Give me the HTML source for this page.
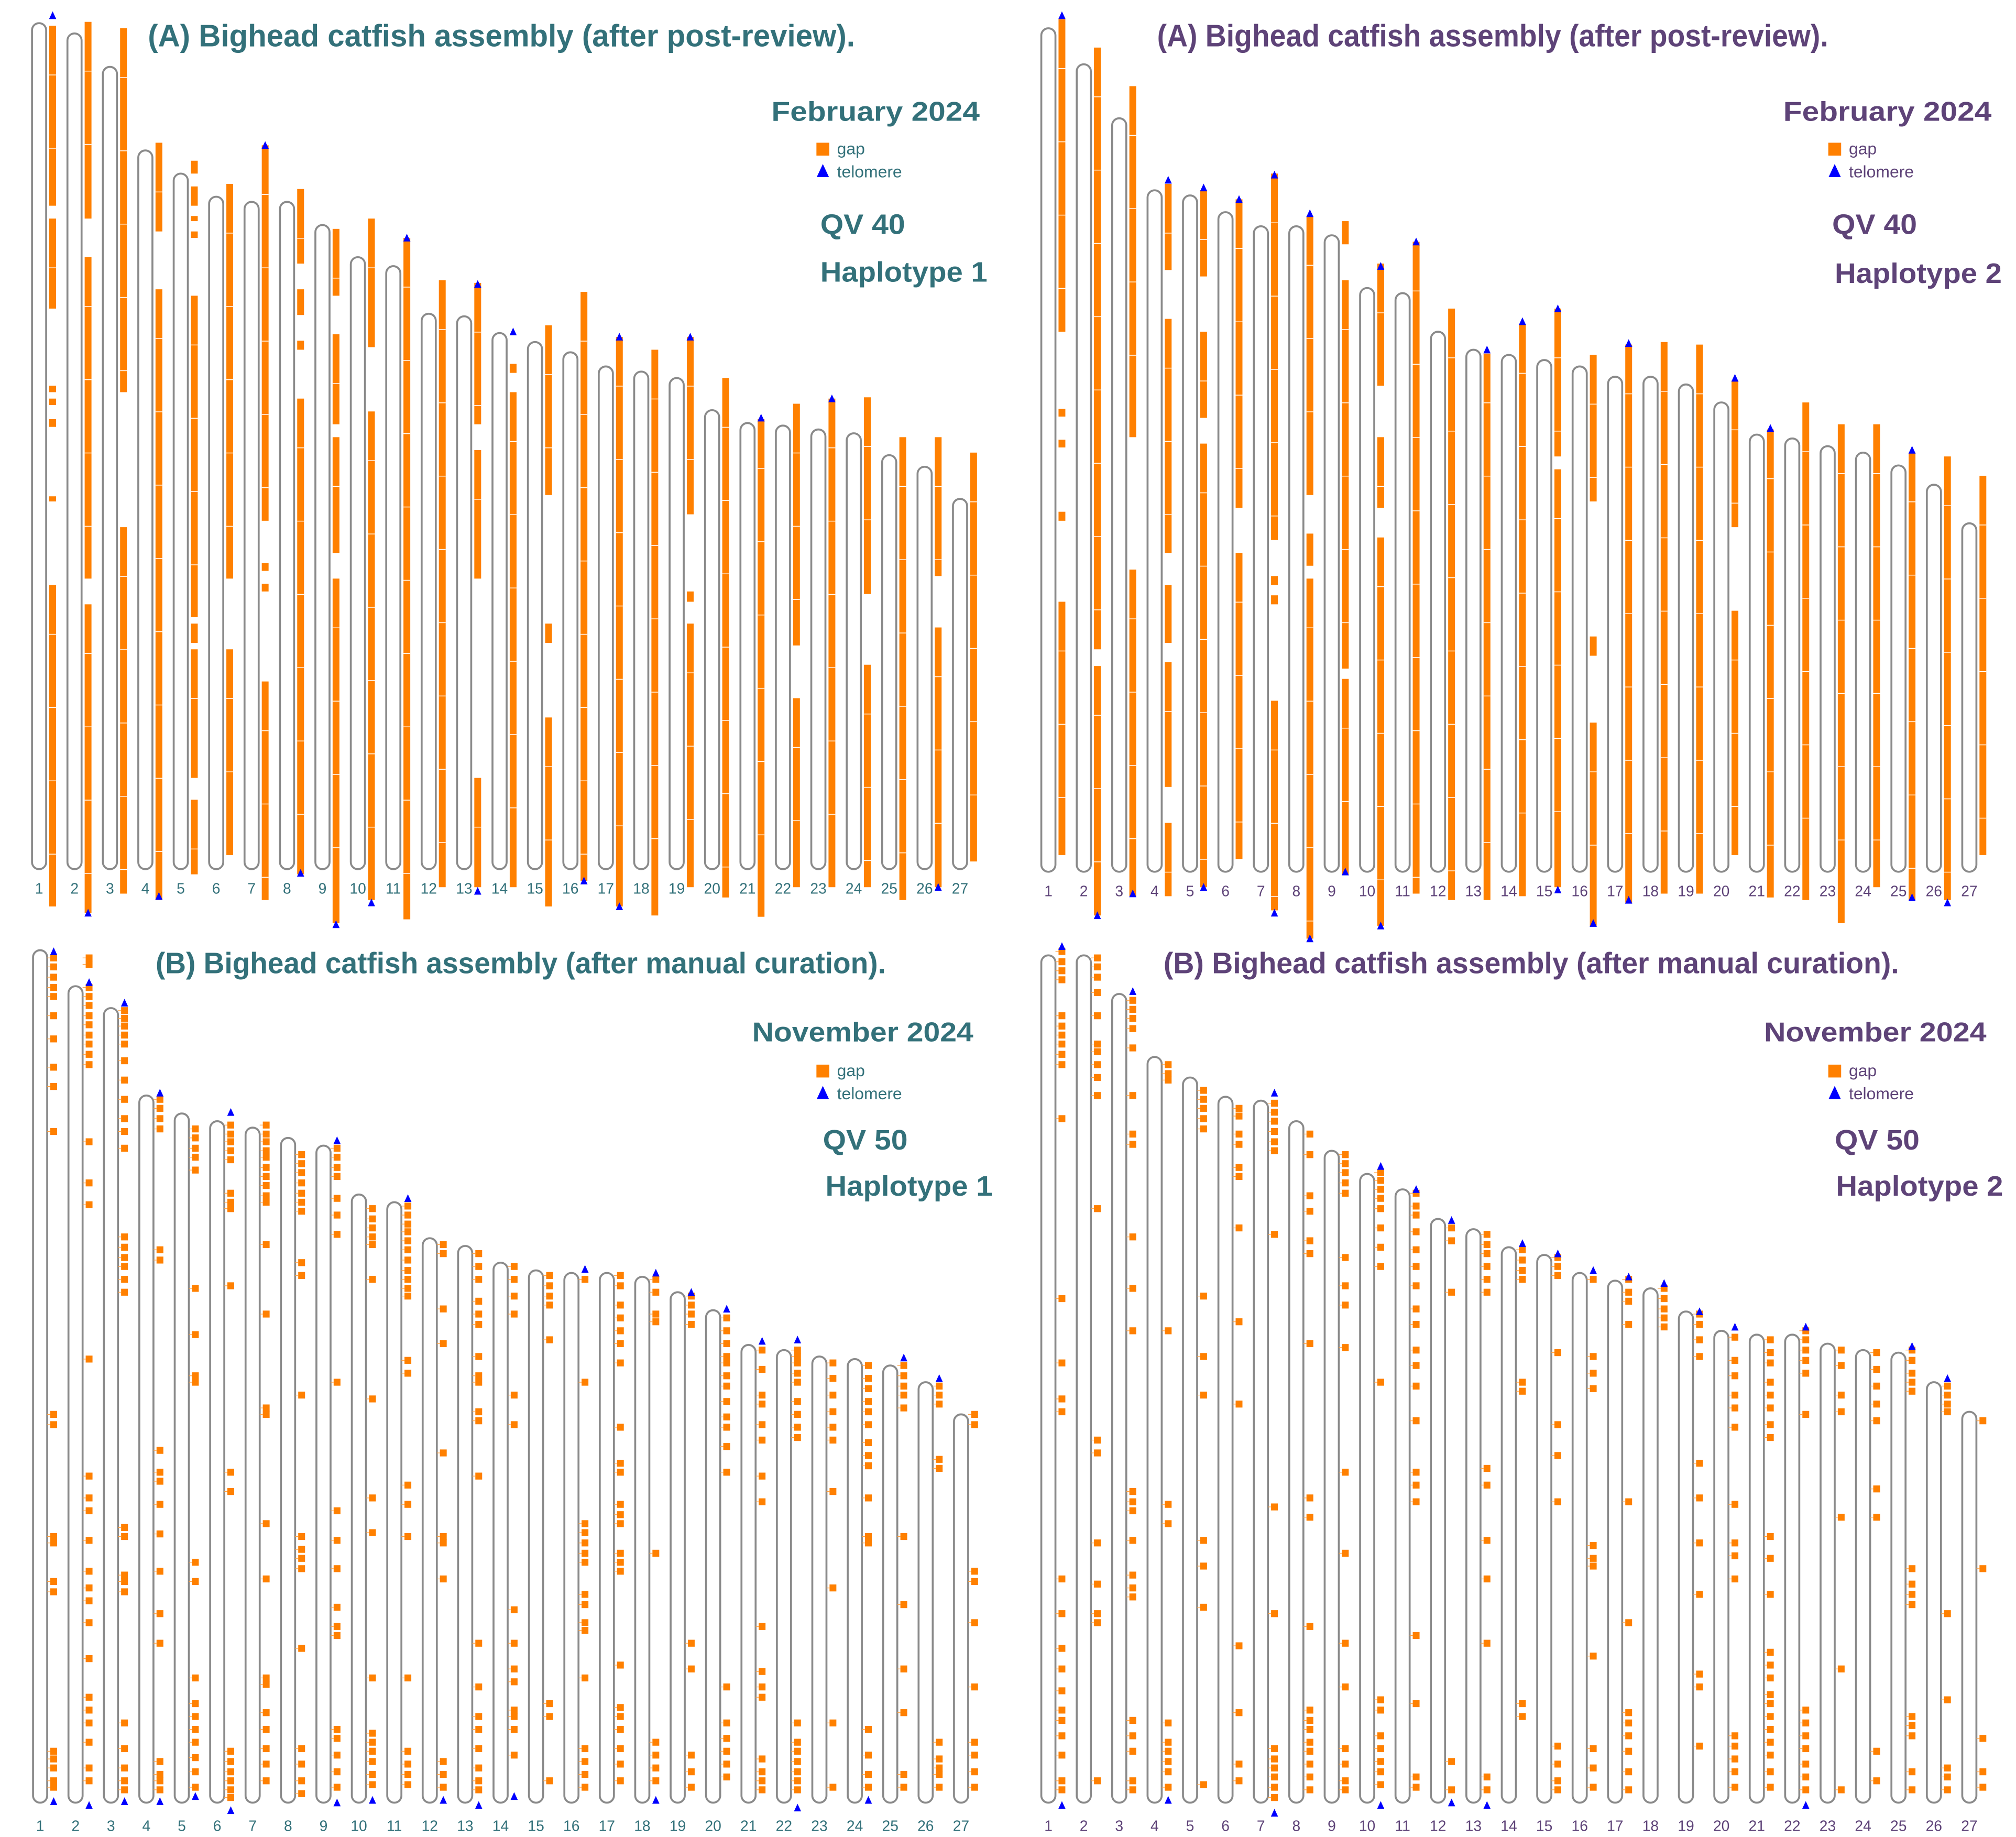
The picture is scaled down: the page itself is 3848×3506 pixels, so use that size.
<!DOCTYPE html>
<html><head><meta charset="utf-8"><title>Bighead catfish assembly ideograms</title>
<style>
html,body{margin:0;padding:0;background:#fff;}
svg{display:block;}
text{font-family:"Liberation Sans",sans-serif;}
.t{font-weight:bold;}
</style></head>
<body>
<svg id="fig" xmlns="http://www.w3.org/2000/svg" width="3848" height="3506" viewBox="0 0 1568 1428.7" preserveAspectRatio="none">
<rect x="0" y="0" width="1568" height="1428.7" fill="#fff"/>
<g fill="#33717a">
<text class="t" x="115" y="36" font-size="24" textLength="550" lengthAdjust="spacingAndGlyphs">(A) Bighead catfish assembly (after post-review).</text>
<text class="t" x="600" y="94" font-size="21" textLength="162" lengthAdjust="spacingAndGlyphs">February  2024</text>
<text class="t" x="638" y="182" font-size="22" textLength="66" lengthAdjust="spacingAndGlyphs">QV 40</text>
<text class="t" x="638" y="219" font-size="22" textLength="130" lengthAdjust="spacingAndGlyphs">Haplotype 1</text>
</g>
<g fill="#5e4378">
<text class="t" x="900" y="36" font-size="24" textLength="522" lengthAdjust="spacingAndGlyphs">(A) Bighead catfish assembly (after post-review).</text>
<text class="t" x="1387" y="94" font-size="21" textLength="162" lengthAdjust="spacingAndGlyphs">February  2024</text>
<text class="t" x="1425" y="182" font-size="22" textLength="66" lengthAdjust="spacingAndGlyphs">QV 40</text>
<text class="t" x="1427" y="220" font-size="22" textLength="130" lengthAdjust="spacingAndGlyphs">Haplotype 2</text>
</g>
<g fill="#33717a">
<text class="t" x="121" y="757" font-size="23" textLength="568" lengthAdjust="spacingAndGlyphs">(B) Bighead catfish assembly (after manual curation).</text>
<text class="t" x="585" y="810" font-size="21" textLength="172" lengthAdjust="spacingAndGlyphs">November 2024</text>
<text class="t" x="640" y="894" font-size="22" textLength="66" lengthAdjust="spacingAndGlyphs">QV 50</text>
<text class="t" x="642" y="930" font-size="22" textLength="130" lengthAdjust="spacingAndGlyphs">Haplotype 1</text>
</g>
<g fill="#5e4378">
<text class="t" x="905" y="757" font-size="23" textLength="572" lengthAdjust="spacingAndGlyphs">(B) Bighead catfish assembly (after manual curation).</text>
<text class="t" x="1372" y="810" font-size="21" textLength="173" lengthAdjust="spacingAndGlyphs">November 2024</text>
<text class="t" x="1427" y="894" font-size="22" textLength="66" lengthAdjust="spacingAndGlyphs">QV 50</text>
<text class="t" x="1428" y="930" font-size="22" textLength="130" lengthAdjust="spacingAndGlyphs">Haplotype 2</text>
</g>
</svg>
<script>
// ---- data (preview-scale units; y positions along the figure) ----
const chromosomes = ["1","2","3","4","5","6","7","8","9","10","11","12","13","14","15","16","17","18","19","20","21","22","23","24","25","26","27"];
const topsAL = [18,26,52,117,135,153,157,157,175,200,207,244,246,259,266,274,285,289,294,319,329,331,334,337,354,363,388];
const topsAR = [22,50,92,148,152,165,176,176,183,224,228,258,272,276,280,285,293,293,299,313,338,341,347,352,362,377,407];
const topsBL = [739,767,784,852,866,872,877,885,891,929,935,963,969,982,988,990,990,993,1005,1019,1046,1050,1055,1057,1062,1075,1100];
const topsBR = [743,743,773,822,838,853,856,872,895,913,925,948,956,970,976,990,996,1002,1020,1035,1038,1038,1045,1050,1052,1075,1098];

const segAL = [[[20,160],[170,240],[300,305],[310,315],[326,332],[386,390],[455,705]],[[17,170],[200,450],[470,710]],[[22,305],[410,695]],[[111,180],[225,700]],[[125,135],[145,160],[168,172],[180,185],[230,480],[485,500],[505,605],[622,680]],[[143,450],[505,665]],[[113,405],[438,444],[454,460],[530,700]],[[147,205],[225,245],[265,272],[310,680]],[[178,230],[260,330],[340,430],[450,718]],[[170,270],[320,700]],[[185,715]],[[218,690]],[[220,330],[350,450],[605,690]],[[283,290],[305,690]],[[253,385],[485,500],[558,705]],[[227,685]],[[262,705]],[[272,712]],[[262,400],[460,468],[485,690]],[[294,698]],[[326,713]],[[314,502],[543,690]],[[310,690]],[[309,462],[517,690]],[[340,700]],[[340,448],[488,690]],[[352,670]]];
const segAR = [[[15,258],[318,324],[342,348],[398,405],[468,665]],[[37,505],[518,712]],[[67,340],[443,697]],[[143,210],[248,430],[455,500],[515,612],[640,697]],[[148,215],[258,325],[345,690]],[[155,395],[430,668]],[[135,420],[448,455],[463,470],[545,708]],[[168,385],[415,440],[450,730]],[[172,190],[218,520],[528,680]],[[205,300],[340,395],[418,720]],[[188,695]],[[240,700]],[[275,700]],[[252,697]],[[240,355],[365,690]],[[276,390],[495,510],[562,720]],[[268,702]],[[266,695]],[[268,695]],[[296,410],[475,665]],[[334,698]],[[313,700]],[[330,718]],[[330,690]],[[352,700]],[[355,700]],[[370,665]]];

const gapsBL = [[745,752,760,768,775,790,808,830,845,880,1100,1108,1195,1200,1230,1238,1362,1368,1375,1385,1390],[745,750,768,775,782,790,797,805,812,820,828,888,920,937,1057,1148,1165,1175,1198,1222,1235,1245,1262,1290,1320,1330,1340,1355,1375,1385],[786,792,798,805,812,825,840,855,870,880,893,962,970,978,985,995,1005,1188,1195,1225,1230,1238,1340,1360,1375,1385,1392],[855,862,870,878,972,980,1128,1145,1152,1170,1193,1222,1255,1278,1370,1380,1385,1392],[878,885,893,900,910,1002,1038,1070,1075,1215,1230,1305,1325,1335,1345,1355,1367,1378,1390],[875,882,888,895,902,928,935,940,1000,1145,1160,1362,1370,1378,1385,1392,1398],[875,882,888,895,900,908,915,922,930,935,968,1022,1095,1100,1185,1228,1305,1310,1332,1345,1360,1372,1385],[898,905,912,920,928,935,942,982,992,1085,1195,1205,1212,1220,1282,1360,1372,1385,1395],[893,900,908,915,932,945,960,1075,1175,1198,1220,1250,1265,1272,1345,1352,1365,1378,1390],[940,948,955,962,968,995,1088,1165,1192,1305,1348,1355,1362,1370,1380,1388],[938,945,952,958,965,972,980,988,995,1002,1008,1058,1068,1155,1170,1195,1305,1362,1372,1380,1388],[968,975,1018,1045,1130,1195,1200,1228,1370,1380,1390],[975,985,995,1012,1022,1030,1055,1070,1075,1098,1105,1148,1278,1312,1335,1345,1360,1375,1385,1392],[985,995,1008,1022,1085,1108,1252,1278,1298,1308,1330,1335,1345,1365],[992,1000,1008,1015,1042,1325,1335,1385],[995,1075,1185,1192,1200,1208,1215,1240,1248,1262,1268,1305,1360,1370,1380,1390],[992,1000,1015,1025,1035,1045,1060,1110,1138,1145,1170,1178,1185,1208,1215,1222,1295,1328,1335,1345,1360,1372,1385],[995,1005,1022,1028,1208,1355,1365,1375,1385],[1008,1015,1022,1030,1278,1298,1365,1378,1390],[1025,1035,1045,1055,1060,1070,1078,1090,1102,1110,1125,1145,1312,1340,1352,1362,1372,1382],[1050,1065,1085,1092,1108,1120,1148,1168,1265,1300,1312,1320,1368,1378,1385,1392],[1050,1055,1060,1068,1075,1090,1100,1110,1118,1340,1355,1362,1370,1378,1385,1392],[1060,1072,1085,1098,1110,1120,1160,1235,1340,1390],[1062,1072,1080,1090,1098,1108,1122,1132,1140,1165,1195,1200,1345,1365,1380,1390],[1062,1070,1078,1085,1095,1195,1248,1298,1332,1380,1390],[1078,1085,1092,1135,1142,1355,1368,1375,1380,1390],[1100,1108,1222,1230,1262,1312,1355,1365,1378,1390]];
const gapsBR = [[740,748,755,762,790,798,805,812,820,828,870,1010,1060,1088,1098,1228,1255,1282,1298,1315,1330,1338,1350,1365,1385,1392],[745,752,760,772,790,812,818,828,838,852,940,1120,1130,1200,1232,1255,1262,1385],[778,785,792,800,815,852,882,890,962,1002,1035,1160,1168,1175,1198,1225,1235,1242,1338,1350,1362,1385,1392],[828,835,840,1035,1170,1185,1340,1355,1362,1370,1378,1390],[848,855,862,870,878,1008,1055,1085,1198,1218,1250,1388],[862,868,882,890,908,915,955,1028,1092,1280,1332,1372,1385],[858,865,872,880,888,895,960,1172,1255,1360,1368,1375,1382,1390,1398],[882,898,930,942,965,975,1045,1165,1180,1265,1330,1338,1345,1355,1362,1372,1382,1392],[898,905,912,920,928,978,1000,1015,1048,1145,1208,1278,1312,1360,1372,1385,1392],[912,918,925,932,940,955,970,985,1075,1322,1330,1350,1360,1370,1378,1388],[928,938,945,958,972,985,1000,1018,1030,1050,1062,1078,1105,1145,1155,1168,1272,1325,1382,1390],[955,965,1005,1370,1392],[960,968,975,985,995,1005,1142,1155,1198,1228,1278,1382,1392],[972,980,988,995,1075,1082,1325,1335],[978,985,992,1052,1108,1132,1168,1358,1372,1385,1392],[995,1055,1068,1080,1202,1212,1218,1288,1360,1375,1390],[995,1005,1012,1030,1168,1262,1332,1340,1350,1362,1378,1392],[1002,1010,1018,1025,1032],[1022,1030,1042,1055,1138,1165,1200,1240,1302,1312,1358],[1040,1058,1070,1085,1095,1110,1170,1200,1210,1228,1350,1358,1368,1378,1390],[1042,1052,1060,1075,1085,1095,1108,1118,1195,1212,1240,1285,1295,1305,1318,1325,1335,1345,1355,1365,1378,1390],[1035,1042,1050,1058,1068,1100,1330,1340,1350,1360,1372,1382,1392],[1050,1062,1085,1098,1180,1298,1392],[1052,1065,1078,1092,1105,1158,1180,1362,1385],[1050,1058,1068,1075,1082,1220,1232,1240,1248,1335,1342,1350,1378,1392],[1078,1085,1092,1098,1255,1322,1375,1382,1392],[1105,1220,1352,1378,1390]];

// telomeres: [chromosome index (1-based), y]
const telAL = [[1,12],[2,710],[4,697],[7,113],[8,679],[9,719],[10,702],[11,185],[13,221],[13,693],[14,258],[16,685],[17,262],[17,705],[19,262],[21,325],[23,310],[26,690]];
const telAR = [[1,12],[2,712],[3,695],[4,140],[5,146],[5,690],[6,155],[7,136],[7,710],[8,166],[8,730],[9,678],[10,207],[10,720],[11,188],[13,272],[14,250],[15,240],[15,692],[16,718],[17,267],[17,700],[20,294],[21,333],[25,350],[25,698],[26,702]];
const telBL = [[1,740],[1,1401],[2,764],[2,1404],[3,780],[3,1401],[4,850],[4,1401],[5,1397],[6,865],[6,1408],[9,887],[9,1402],[10,1400],[11,932],[12,1400],[13,1404],[14,1397],[16,987],[18,990],[18,1400],[19,1005],[20,1018],[21,1043],[22,1042],[22,1406],[24,1400],[25,1056],[26,1072]];
const telBR = [[1,736],[1,1404],[3,771],[4,1400],[7,850],[7,1410],[10,907],[10,1404],[11,925],[12,949],[12,1402],[13,1404],[14,967],[15,975],[16,988],[17,993],[18,998],[19,1020],[20,1032],[22,1032],[22,1404],[25,1047],[26,1072]];

// ---- layout ----
const NS = "http://www.w3.org/2000/svg";
const svg = document.getElementById('fig');
const PITCH = 27.55, CW = 11, BARW = 5.3;
function xOf(panelX0, i){ return panelX0 + i*PITCH; }
function el(tag, attrs, parent){
  const e = document.createElementNS(NS, tag);
  for (const k in attrs) e.setAttribute(k, attrs[k]);
  parent.appendChild(e);
  return e;
}
function tri(g, cx, y, name, s){
  s = s || 1;
  const t = el('polygon', {points:(cx-2.8*s)+','+(y+2.8*s)+' '+(cx+2.8*s)+','+(y+2.8*s)+' '+cx+','+(y-3.2*s), fill:'#0000ff'}, g);
  
  
}
function panel(opts){
  const g = el('g', {}, svg);
  
  
  chromosomes.forEach((c, i) => {
    const x = xOf(opts.x0, i);
    const top = opts.tops[i], bot = opts.bottom;
    const cg = el('g', {}, g);
    
    
    const o = el('rect', {x:x, y:top, width:CW, height:bot-top, rx:CW/2, ry:CW/2, fill:'#fff', stroke:'#8a8a8a', 'stroke-width':1.5}, cg);
    
    
    const bx = x + CW + 2.4;
    if (opts.segs) {
      opts.segs[i].forEach(s => {
        const r = el('rect', {x:bx, y:s[0], width:BARW, height:s[1]-s[0], fill:'#ff8000'}, cg);
        
        
        for (let yy = s[0]+38; yy < s[1]-10; yy += 57) {
          const w = el('rect', {x:bx, y:yy, width:BARW, height:0.6, fill:'#fff'}, cg);
          
          
        }
      });
    }
    if (opts.gaps) {
      opts.gaps[i].forEach(yv => {
        const r = el('rect', {x:bx, y:yv-2.7, width:BARW, height:5.4, fill:'#ff8000'}, cg);
        
        
        const l = el('line', {x1:x+CW, y1:yv, x2:bx, y2:yv, stroke:'#ffa040', 'stroke-width':0.5}, cg);
        
        
      });
    }
    const lab = el('text', {x:x+CW/2, y:opts.labelY, 'font-size':11.5, 'text-anchor':'middle', fill:opts.color}, cg);
    
    
    lab.textContent = c;
  });
  opts.tels.forEach(t => {
    const x = xOf(opts.x0, t[0]-1) + CW + 2.4 + BARW/2;
    tri(g, x, t[1], 'telomere-marker', 1);
  });
  const lg = el('g', {}, g);
  
  
  const sq = el('rect', {x:opts.legX, y:opts.legY-5, width:10, height:10, fill:'#ff8000'}, lg);
  
  
  const t1 = el('text', {x:opts.legX+16, y:opts.legY+4, 'font-size':13, fill:opts.color}, lg);
  
  
  t1.textContent = 'gap';
  tri(lg, opts.legX+5, opts.legY+17, 'legend-telomere-swatch', 1.7);
  const t2 = el('text', {x:opts.legX+16, y:opts.legY+22, 'font-size':13, fill:opts.color}, lg);
  
  
  t2.textContent = 'telomere';
}
panel({name:'panel-a-haplotype-1', x0:24.9, tops:topsAL, bottom:676, labelY:695, segs:segAL, tels:telAL, color:'#33717a', legX:635, legY:116});
panel({name:'panel-a-haplotype-2', x0:809.9, tops:topsAR, bottom:678, labelY:697, segs:segAR, tels:telAR, color:'#5e4378', legX:1422, legY:116});
panel({name:'panel-b-haplotype-1', x0:25.7, tops:topsBL, bottom:1402, labelY:1424, gaps:gapsBL, tels:telBL, color:'#33717a', legX:635, legY:833});
panel({name:'panel-b-haplotype-2', x0:809.9, tops:topsBR, bottom:1402, labelY:1424, gaps:gapsBR, tels:telBR, color:'#5e4378', legX:1422, legY:833});
</script>
</body></html>
